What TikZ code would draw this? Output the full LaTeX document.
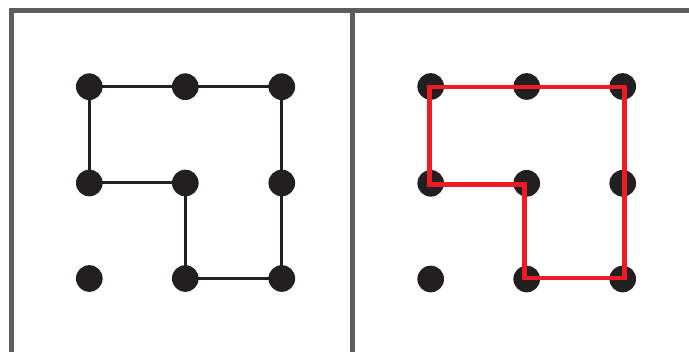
\documentclass[tikz,border=0pt]{standalone}
\usetikzlibrary{backgrounds}
\definecolor{dotc}{HTML}{231F20}
\definecolor{framec}{HTML}{5E5E5E}
\definecolor{redc}{HTML}{ED1C24}
\begin{document}
\begin{tikzpicture}[x=0.75pt,y=-0.75pt,
  dot/.style={circle,fill=dotc,inner sep=0pt,minimum size=20pt},
  blackline/.style={draw=dotc,line width=2.25pt},
  redline/.style={draw=redc,line width=3.5pt,line join=miter},
  frameline/.style={draw=framec,line width=3.4pt}]
\useasboundingbox (0,0) rectangle (689,352);
% frame
\draw[frameline] (11.3,352) -- (11.3,10.3) -- (689,10.3);
\draw[frameline] (352.3,10.3) -- (352.3,352);
% left grid
\foreach \c/\x in {1/89.3,2/185.3,3/281.8}{
  \foreach \r/\y in {1/86.7,2/183,3/278.5}{
    \node[dot] (L\r\c) at (\x,\y) {};
  }
}
% right grid
\foreach \c/\x in {1/430.7,2/526.7,3/622.7}{
  \foreach \r/\y in {1/86.5,2/183.3,3/279}{
    \node[dot] (R\r\c) at (\x,\y) {};
  }
}
\begin{scope}[on background layer]
\fill[white] (0,0) rectangle (689,352);
\draw[blackline] (L11.center) -- (L13.center) -- (L33.center) -- (L32.center)
  -- (L22.center) -- (L21.center) -- cycle;
\end{scope}
% red solution path (slightly offset from the dot centres)
\coordinate (a) at (429.3,87);
\coordinate (b) at (624.3,87);
\coordinate (c) at (624.3,278);
\coordinate (d) at (524.3,278);
\coordinate (e) at (524.3,184.3);
\coordinate (f) at (429.3,184.3);
\draw[redline] (a) -- (b) -- (c) -- (d) -- (e) -- (f) -- cycle;
\end{tikzpicture}
\end{document}
